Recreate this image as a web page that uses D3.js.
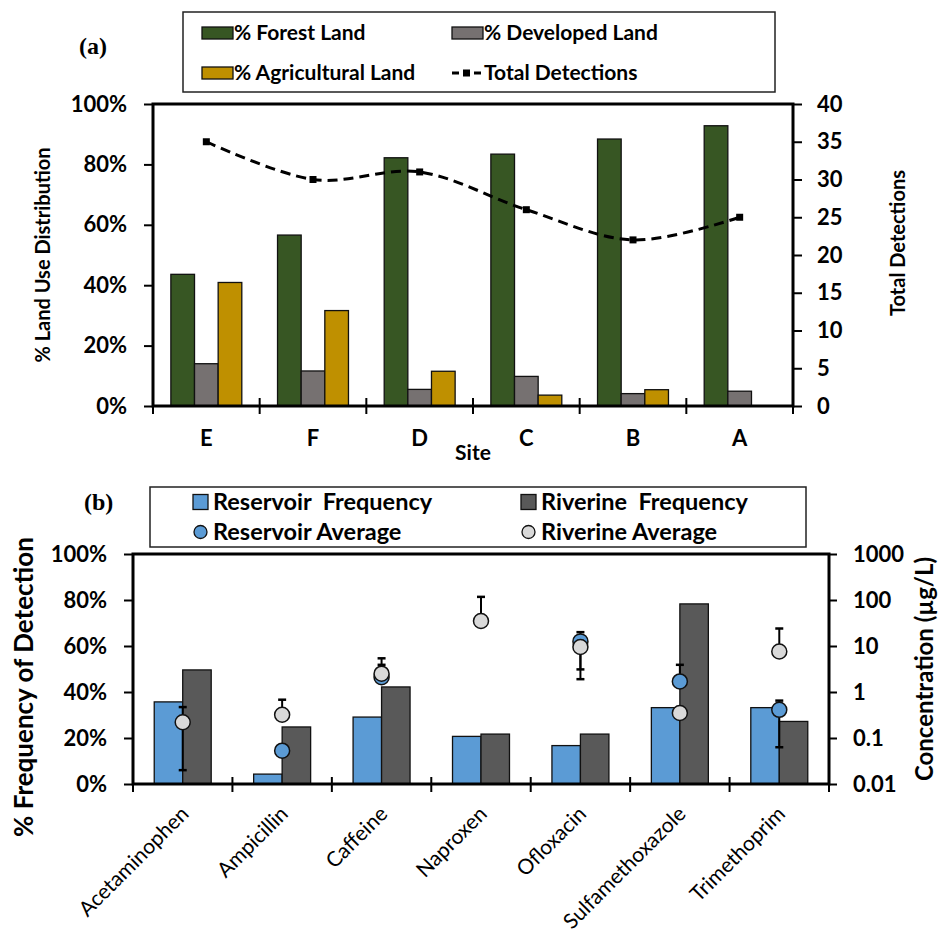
<!DOCTYPE html>
<html>
<head>
<meta charset="utf-8">
<script src="https://cdn.jsdelivr.net/npm/d3@7"></script>
<style>
body { margin: 0; background: #fff; }
svg text { font-family: Lato, "Liberation Sans", sans-serif; fill: #000; }
</style>
</head>
<body>
<svg width="942" height="938"></svg>
<script>
/// Data - panel (a)
var sites = ["E", "F", "D", "C", "B", "A"];
var forestLand = [43.6, 56.6, 82.2, 83.4, 88.4, 92.8];
var developedLand = [14.0, 11.6, 5.5, 9.8, 4.1, 4.9];
var agriculturalLand = [40.9, 31.6, 11.5, 3.6, 5.4, 0];
var totalDetections = [35, 30, 31, 26, 22, 25];
var pctTicks = [0, 20, 40, 60, 80, 100];
var detectionTicks = [0, 5, 10, 15, 20, 25, 30, 35, 40];

/// Data - panel (b)
var compounds = ["Acetaminophen", "Ampicillin", "Caffeine", "Naproxen", "Ofloxacin", "Sulfamethoxazole", "Trimethoprim"];
var reservoirFreq = [35.7, 4.3, 29.1, 20.7, 16.7, 33.2, 33.2];
var riverineFreq = [49.6, 24.8, 42.2, 21.7, 21.7, 78.3, 27.2];
var reservoirAvg = [null, 0.053, 2.1, null, 12.6, 1.7, 0.41];
var reservoirErrHigh = [null, null, 3.9, null, 20, 3.9, 0.65];
var reservoirErrLow = [null, null, null, null, 3.1, null, 0.063];
var riverineAvg = [0.22, 0.32, 2.5, 35, 9.5, 0.35, 7.6];
var riverineErrHigh = [0.47, 0.68, 5.4, 117, null, null, 24];
var riverineErrLow = [0.02, null, null, null, 1.9, null, null];
var concTicks = [0.01, 0.1, 1, 10, 100, 1000];

var svg = d3.select("svg");

// Excel-ish colours
var cForest = "#375623", cDeveloped = "#767171", cAgri = "#bf9000";
var cReservoir = "#5b9bd5", cRiverine = "#595959", cRivDot = "#d9d9d9";

function styleAxis(g, size, weight) {
  g.attr("font-family", null).attr("font-size", null);
  g.selectAll("text").style("font-size", size + "px").style("font-weight", weight);
  g.select(".domain").remove();
  g.selectAll(".tick line").attr("stroke", "#000").attr("stroke-width", 2);
}

/// ---------------- Panel (a) ----------------
var a = { left: 153, right: 793, top: 104, bottom: 406 };

var xa = d3.scaleBand().domain(sites).range([a.left, a.right]);
var xaInner = d3.scaleBand().domain([0, 1, 2]).range([0, xa.bandwidth() * 0.665]);
var ya = d3.scaleLinear().domain([0, 100]).range([a.bottom, a.top]);
var yaRight = d3.scaleLinear().domain([0, 40]).range([a.bottom, a.top]);

var landSeries = [forestLand, developedLand, agriculturalLand];
var landColors = [cForest, cDeveloped, cAgri];

var gBars = svg.append("g");
landSeries.forEach(function(vals, si) {
  gBars.selectAll(null)
      .data(sites.map(function(s, i) { return { site: s, v: vals[i] }; }).filter(function(d) { return d.v > 0; }))
    .enter().append("rect")
      .attr("x", function(d) { return xa(d.site) + (xa.bandwidth() - xaInner.range()[1]) / 2 + xaInner(si); })
      .attr("width", xaInner.bandwidth())
      .attr("y", function(d) { return ya(d.v); })
      .attr("height", function(d) { return a.bottom - ya(d.v); })
      .style("fill", landColors[si])
      .style("stroke", "#111")
      .style("stroke-width", 1.3);
});

// total detections, smoothed dashed line
var detLine = d3.line()
    .x(function(d, i) { return xa(sites[i]) + xa.bandwidth() / 2; })
    .y(function(d) { return yaRight(d); })
    .curve(d3.curveCardinal.tension(0));

svg.append("path")
    .attr("d", detLine(totalDetections))
    .style("fill", "none")
    .style("stroke", "#000")
    .style("stroke-width", 3)
    .style("stroke-dasharray", "10,6");

svg.selectAll(null)
    .data(totalDetections)
  .enter().append("rect")
    .attr("x", function(d, i) { return xa(sites[i]) + xa.bandwidth() / 2 - 3.5; })
    .attr("y", function(d) { return yaRight(d) - 3.5; })
    .attr("width", 7).attr("height", 7)
    .style("fill", "#000");

// frame
svg.append("rect")
    .attr("x", a.left).attr("y", a.top)
    .attr("width", a.right - a.left).attr("height", a.bottom - a.top)
    .style("fill", "none").style("stroke", "#000").style("stroke-width", 3);

var axLeftA = svg.append("g")
    .attr("transform", "translate(" + a.left + ",0)")
    .call(d3.axisLeft(ya).tickValues(pctTicks).tickFormat(function(d) { return d + "%"; }).tickSize(9).tickPadding(17));
styleAxis(axLeftA, 22, "bold");

var axRightA = svg.append("g")
    .attr("transform", "translate(" + a.right + ",0)")
    .call(d3.axisRight(yaRight).tickValues(detectionTicks).tickSize(9).tickPadding(15));
styleAxis(axRightA, 22, "bold");

var axBottomA = svg.append("g")
    .attr("transform", "translate(0," + a.bottom + ")")
    .call(d3.axisBottom(xa).tickSize(0).tickPadding(24));
styleAxis(axBottomA, 22, "bold");

// crossing ticks at band edges
svg.selectAll(null)
    .data(d3.range(sites.length + 1))
  .enter().append("line")
    .attr("x1", function(i) { return a.left + i * xa.step(); })
    .attr("x2", function(i) { return a.left + i * xa.step(); })
    .attr("y1", a.bottom - 8).attr("y2", a.bottom + 8)
    .style("stroke", "#000").style("stroke-width", 2);

svg.append("text")
    .attr("x", (a.left + a.right) / 2).attr("y", 460)
    .attr("text-anchor", "middle")
    .style("font-size", "21px").style("font-weight", "bold")
    .text("Site");

svg.append("text")
    .attr("transform", "translate(50," + (a.top + a.bottom) / 2 + ") rotate(-90)")
    .attr("text-anchor", "middle")
    .style("font-size", "20px").style("font-weight", "bold")
    .text("% Land Use Distribution");

svg.append("text")
    .attr("transform", "translate(905,243) rotate(-90)")
    .attr("text-anchor", "middle")
    .style("font-size", "20px").style("font-weight", "bold")
    .text("Total Detections");

svg.append("text")
    .attr("x", 79).attr("y", 54)
    .style("font-family", "'Liberation Serif', 'DejaVu Serif', serif")
    .style("font-size", "24px").style("font-weight", "bold")
    .text("(a)");

// legend (a)
var legA = svg.append("g");
legA.append("rect")
    .attr("x", 183).attr("y", 12).attr("width", 592).attr("height", 80)
    .style("fill", "#fff").style("stroke", "#222").style("stroke-width", 1.5);

var legAItems = [
  { label: "% Forest Land", color: cForest, x: 202, y: 33 },
  { label: "% Developed Land", color: cDeveloped, x: 452, y: 33 },
  { label: "% Agricultural Land", color: cAgri, x: 202, y: 73 }
];
legAItems.forEach(function(it) {
  legA.append("rect")
      .attr("x", it.x).attr("y", it.y - 6).attr("width", 31).attr("height", 12)
      .style("fill", it.color).style("stroke", "#111").style("stroke-width", 1.3);
  legA.append("text")
      .attr("x", it.x + 32).attr("y", it.y + 7)
      .style("font-size", "21px").style("font-weight", "bold")
      .text(it.label);
});
legA.append("line")
    .attr("x1", 452).attr("x2", 481).attr("y1", 73).attr("y2", 73)
    .style("stroke", "#000").style("stroke-width", 3).style("stroke-dasharray", "7,4");
legA.append("rect")
    .attr("x", 463).attr("y", 69.5).attr("width", 7).attr("height", 7)
    .style("fill", "#000");
legA.append("text")
    .attr("x", 484).attr("y", 80)
    .style("font-size", "21px").style("font-weight", "bold")
    .text("Total Detections");

/// ---------------- Panel (b) ----------------
var b = { left: 133, right: 829, top: 554, bottom: 784 };

var xb = d3.scaleBand().domain(compounds).range([b.left, b.right]);
var xbInner = d3.scaleBand().domain([0, 1]).range([0, xb.bandwidth() * 0.573]);
var yb = d3.scaleLinear().domain([0, 100]).range([b.bottom, b.top]);
var yConc = d3.scaleLog().domain([0.01, 1000]).range([b.bottom, b.top]);

var freqSeries = [reservoirFreq, riverineFreq];
var freqColors = [cReservoir, cRiverine];
freqSeries.forEach(function(vals, si) {
  svg.selectAll(null)
      .data(compounds)
    .enter().append("rect")
      .attr("x", function(d) { return xb(d) + (xb.bandwidth() - xbInner.range()[1]) / 2 + xbInner(si); })
      .attr("width", xbInner.bandwidth())
      .attr("y", function(d, i) { return yb(vals[i]); })
      .attr("height", function(d, i) { return b.bottom - yb(vals[i]); })
      .style("fill", freqColors[si])
      .style("stroke", "#111")
      .style("stroke-width", 1.3);
});

var avgSeries = [
  { avg: reservoirAvg, hi: reservoirErrHigh, lo: reservoirErrLow, color: cReservoir },
  { avg: riverineAvg, hi: riverineErrHigh, lo: riverineErrLow, color: cRivDot }
];

function cx(c) { return xb(c) + xb.bandwidth() / 2; }

// error bars first, under the dots
avgSeries.forEach(function(s) {
  var eb = svg.append("g");
  compounds.forEach(function(c, i) {
    if (s.avg[i] == null) return;
    var top = s.hi[i] != null ? s.hi[i] : s.avg[i];
    var bot = s.lo[i] != null ? s.lo[i] : s.avg[i];
    eb.append("line")
        .attr("x1", cx(c)).attr("x2", cx(c))
        .attr("y1", yConc(top)).attr("y2", yConc(bot))
        .style("stroke", "#000").style("stroke-width", 2);
    [s.hi[i], s.lo[i]].forEach(function(v) {
      if (v == null) return;
      eb.append("line")
          .attr("x1", cx(c) - 4).attr("x2", cx(c) + 4)
          .attr("y1", yConc(v)).attr("y2", yConc(v))
          .style("stroke", "#000").style("stroke-width", 2.5);
    });
  });
});

avgSeries.forEach(function(s) {
  svg.selectAll(null)
      .data(compounds.map(function(c, i) { return { c: c, v: s.avg[i] }; }).filter(function(d) { return d.v != null; }))
    .enter().append("circle")
      .attr("cx", function(d) { return cx(d.c); })
      .attr("cy", function(d) { return yConc(d.v); })
      .attr("r", 7.5)
      .style("fill", s.color)
      .style("stroke", "#111")
      .style("stroke-width", 1.5);
});

svg.append("rect")
    .attr("x", b.left).attr("y", b.top)
    .attr("width", b.right - b.left).attr("height", b.bottom - b.top)
    .style("fill", "none").style("stroke", "#000").style("stroke-width", 3);

var axLeftB = svg.append("g")
    .attr("transform", "translate(" + b.left + ",0)")
    .call(d3.axisLeft(yb).tickValues(pctTicks).tickFormat(function(d) { return d + "%"; }).tickSize(9).tickPadding(17));
styleAxis(axLeftB, 22, "bold");

var axRightB = svg.append("g")
    .attr("transform", "translate(" + b.right + ",0)")
    .call(d3.axisRight(yConc).tickValues(concTicks).tickFormat(function(d) { return String(d); }).tickSize(8).tickPadding(16));
styleAxis(axRightB, 22, "bold");

svg.selectAll(null)
    .data(d3.range(compounds.length + 1))
  .enter().append("line")
    .attr("x1", function(i) { return b.left + i * xb.step(); })
    .attr("x2", function(i) { return b.left + i * xb.step(); })
    .attr("y1", b.bottom - 7).attr("y2", b.bottom + 8)
    .style("stroke", "#000").style("stroke-width", 2);

svg.selectAll(null)
    .data(compounds)
  .enter().append("text")
    .attr("transform", function(d) { return "translate(" + (xb(d) + xb.bandwidth() / 2 + 2) + "," + (b.bottom + 26) + ") rotate(-45)"; })
    .attr("text-anchor", "end")
    .attr("dy", "0.35em")
    .style("font-size", "21px")
    .text(function(d) { return d; });

svg.append("text")
    .attr("transform", "translate(33,687) rotate(-90)")
    .attr("text-anchor", "middle")
    .style("font-size", "26px").style("font-weight", "bold")
    .text("% Frequency of Detection");

svg.append("text")
    .attr("transform", "translate(933,669) rotate(-90)")
    .attr("text-anchor", "middle")
    .style("font-size", "24px").style("font-weight", "bold")
    .text("Concentration (\u00b5g/L)");

svg.append("text")
    .attr("x", 84).attr("y", 510)
    .style("font-family", "'Liberation Serif', 'DejaVu Serif', serif")
    .style("font-size", "24px").style("font-weight", "bold")
    .text("(b)");

// legend (b)
var legB = svg.append("g");
legB.append("rect")
    .attr("x", 150).attr("y", 487).attr("width", 656).attr("height", 60)
    .style("fill", "#fff").style("stroke", "#222").style("stroke-width", 1.5);

var legBItems = [
  { label: "Reservoir  Frequency", color: cReservoir, x: 193, y: 502, kind: "bar" },
  { label: "Riverine  Frequency", color: cRiverine, x: 521, y: 502, kind: "bar" },
  { label: "Reservoir Average", color: cReservoir, x: 193, y: 532, kind: "dot" },
  { label: "Riverine Average", color: cRivDot, x: 521, y: 532, kind: "dot" }
];
legBItems.forEach(function(it) {
  if (it.kind == "bar") {
    legB.append("rect")
        .attr("x", it.x).attr("y", it.y - 7.5).attr("width", 15).attr("height", 15)
        .style("fill", it.color).style("stroke", "#111").style("stroke-width", 1.3);
  } else {
    legB.append("circle")
        .attr("cx", it.x + 7.5).attr("cy", it.y).attr("r", 6.5)
        .style("fill", it.color).style("stroke", "#111").style("stroke-width", 1.3);
  }
  legB.append("text")
      .attr("x", it.x + 20).attr("y", it.y + 8)
      .attr("xml:space", "preserve")
      .style("white-space", "pre")
      .style("font-size", "23.5px").style("font-weight", "bold")
      .text(it.label);
});
</script>
</body>
</html>
